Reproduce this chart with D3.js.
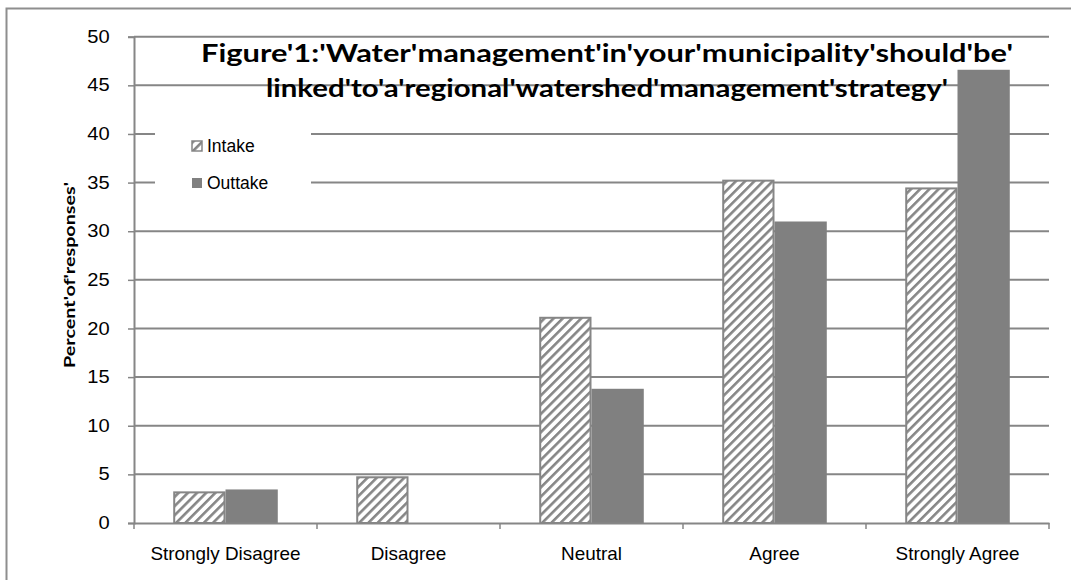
<!DOCTYPE html>
<html><head><meta charset="utf-8">
<script src="https://cdn.jsdelivr.net/npm/d3@7"></script>
<style>body{margin:0;background:#fff}</style>
</head><body>
<svg id="c" width="1071" height="580"></svg>
<script>
const categories = ["Strongly Disagree","Disagree","Neutral","Agree","Strongly Agree"];
const seriesNames = ["Intake","Outtake"];
const intake = [3.15, 4.7, 21.1, 35.2, 34.4];
const outtake = [3.45, 0, 13.8, 31.0, 46.6];
const yTicks = [0,5,10,15,20,25,30,35,40,45,50];
const titleLines = ["Figure'1:'Water'management'in'your'municipality'should'be'","linked'to'a'regional'watershed'management'strategy'"];
const yLabel = "Percent'of'responses'";

const svg = d3.select("#c");
const L = 134, R = 1049, T = 36.7, B = 523;
const grey = "#868686";

svg.append("rect").attr("x",6.5).attr("y",8.5).attr("width",1080).attr("height",600)
  .attr("fill","#fff").attr("stroke","#8e8e8e").attr("stroke-width",2);

const defs = svg.append("defs");
const pat = defs.append("pattern").attr("id","hatch").attr("patternUnits","userSpaceOnUse")
  .attr("width",6.5).attr("height",6.5).attr("patternTransform","rotate(45)");
pat.append("rect").attr("width",6.5).attr("height",6.5).attr("fill","#fff");
pat.append("rect").attr("x",0).attr("width",2.6).attr("height",6.5).attr("fill",grey);

const x = d3.scaleBand().domain(categories).range([L,R]).paddingInner(0).paddingOuter(0);
const y = d3.scaleLinear().domain([0,50]).range([B,T]);
const barW = x.bandwidth()/3.5;
const x1 = d3.scaleBand().domain(seriesNames).range([0, 2*barW]);

// gridlines
svg.append("g").selectAll("line").data(yTicks.filter(d=>d>0)).join("line")
  .attr("x1",L).attr("x2",R).attr("y1",d=>y(d)).attr("y2",d=>y(d))
  .attr("stroke",grey).attr("stroke-width",2);

// y axis
const yAxis = svg.append("g").attr("transform",`translate(${L},0)`)
  .call(d3.axisLeft(y).tickValues(yTicks).tickSize(6).tickPadding(10));
yAxis.select(".domain").attr("stroke",grey).attr("stroke-width",2);
yAxis.selectAll(".tick line").attr("stroke",grey).attr("stroke-width",1.5);
yAxis.selectAll(".tick text").attr("font-family","Liberation Sans, Arial").attr("font-size",17.5)
  .attr("fill","#000").attr("transform","translate(-6,0) scale(1.15,1)");

// bars
const groups = svg.append("g").selectAll("g").data(categories).join("g")
  .attr("transform",d=>`translate(${x(d)+(x.bandwidth()-2*barW)/2},0)`);
groups.append("rect").datum((d,i)=>intake[i])
  .attr("x",x1("Intake")+1).attr("width",barW-2)
  .attr("y",d=>y(d)).attr("height",d=>B-y(d))
  .attr("fill","url(#hatch)").attr("stroke",grey).attr("stroke-width",2);
groups.append("rect").datum((d,i)=>outtake[i])
  .attr("x",x1("Outtake")).attr("width",barW)
  .attr("y",d=>y(d)).attr("height",d=>B-y(d))
  .attr("fill","#808080");

// x axis
const xAxis = svg.append("g").attr("transform",`translate(0,${B})`)
  .call(d3.axisBottom(x).tickSize(0).tickPadding(25));
xAxis.select(".domain").attr("stroke",grey).attr("stroke-width",2);
xAxis.selectAll(".tick text").attr("font-family","Liberation Sans, Arial").attr("font-size",17.5)
  .attr("fill","#000").attr("transform","scale(1.08,1)");
// category boundary ticks
svg.append("g").selectAll("line").data(categories.concat(["_end"])).join("line")
  .attr("x1",(d,i)=>L+i*x.bandwidth()).attr("x2",(d,i)=>L+i*x.bandwidth())
  .attr("y1",B).attr("y2",B+6).attr("stroke",grey).attr("stroke-width",1.5);

// legend
const lg = svg.append("g");
lg.append("rect").attr("x",155).attr("y",118).attr("width",156).attr("height",80).attr("fill","#fff");
const lgItems = lg.selectAll("g").data(seriesNames).join("g")
  .attr("transform",(d,i)=>`translate(192,${141+i*37})`);
lgItems.append("rect").attr("width",10).attr("height",10)
  .attr("fill",(d,i)=>i===0?"url(#hatch)":"#808080").attr("stroke",(d,i)=>i===0?grey:"none").attr("stroke-width",1.5);
lgItems.append("text").attr("x",15).attr("y",11).text(d=>d)
  .attr("font-family","Liberation Sans, Arial").attr("font-size",17.5).attr("fill","#000");

// title
svg.append("g").selectAll("text").data(titleLines).join("text")
  .attr("x",607).attr("y",(d,i)=>62+i*35).attr("text-anchor","middle")
  .attr("font-family","Lato, Open Sans, sans-serif").attr("font-weight","bold").attr("font-size",24)
  .attr("textLength",(d,i)=>i===0?812:682).attr("lengthAdjust","spacingAndGlyphs")
  .text(d=>d);

// y label
svg.append("text").attr("transform","translate(75,275) rotate(-90)").attr("text-anchor","middle")
  .attr("font-family","Lato, Open Sans, sans-serif").attr("font-weight","bold").attr("font-size",15)
  .attr("textLength",186).attr("lengthAdjust","spacingAndGlyphs").text(yLabel);
</script>
</body></html>
